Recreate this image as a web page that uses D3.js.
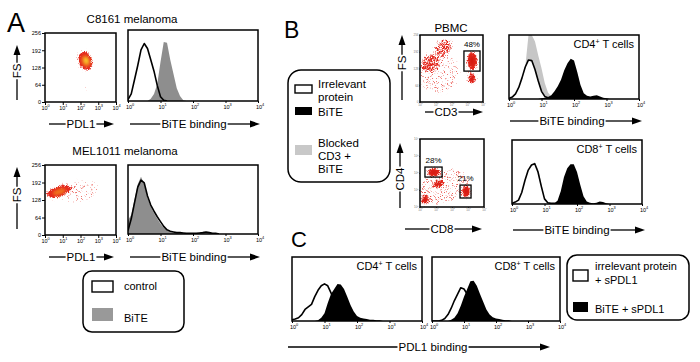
<!DOCTYPE html>
<html>
<head>
<meta charset="utf-8">
<script src="https://cdn.jsdelivr.net/npm/d3@7"></script>
<style>
  body { margin: 0; background: #fff; }
  svg { font-family: "Liberation Sans", Arial, Helvetica, sans-serif; }
</style>
</head>
<body>
<svg width="700" height="362"></svg>
<script>
// ---- data ----
// histogram counts (% of max) on log10 bins 0.0, 0.1, ... 4.0 ; missing tail = 0
const a1Control = [2, 10, 30, 50, 72, 81, 74, 58, 42, 22, 6, 1, 0];
const a1Bite    = [0, 0, 0, 0, 0, 0, 0, 3, 10, 24, 55, 83, 82, 58, 38, 18, 7, 1, 0];
const a2Control = [5, 22, 45, 68, 78, 74, 55, 42, 33, 25, 18, 11, 6, 4, 3, 2, 2, 1.5, 1, 1, 1, 1, 1.5, 2, 3, 2, 1, 1, 0];
const a2Bite    = [20, 28, 50, 72, 83, 72, 52, 40, 30, 22, 15, 9, 5, 3, 2, 1.5, 1, 1, 1, 1, 1, 1, 1.5, 2, 2.5, 2, 1, 0.5, 0];
const b1Control = [1, 3, 8, 18, 33, 50, 61, 60, 46, 28, 12, 4, 2, 2, 1, 1, 1, 1, 0];
const b1Blocked = [0, 0, 0, 5, 20, 50, 100, 100, 90, 68, 48, 25, 10, 4, 1, 0];
const b1Bite    = [0, 0, 0, 0, 0, 0, 0, 0, 0, 0, 1, 2, 3, 6, 12, 20, 30, 45, 56, 63, 60, 42, 22, 9, 5, 4, 5, 6, 4, 2, 1, 0];
const b2Control = [1, 3, 6, 18, 37, 53, 61, 63, 50, 28, 8, 2, 1, 1, 0];
const b2Blocked = [1, 2, 5, 15, 34, 52, 62, 65, 55, 32, 10, 3, 1, 0];
const b2Bite    = [0, 0, 0, 0, 0, 0, 0, 0, 0, 0, 0, 0, 0, 1, 5, 20, 42, 56, 62, 62, 50, 30, 12, 4, 2, 1, 2, 4, 3, 1, 0];
const c1Control = [2, 3, 5, 10, 18, 22, 26, 38, 48, 55, 58, 55, 44, 32, 22, 14, 8, 4, 2, 1, 0];
const c1Bite    = [0, 0, 0, 0, 0, 0, 0, 0, 1, 5, 12, 28, 42, 50, 58, 57, 50, 38, 25, 15, 8, 5, 4, 3, 2, 2, 1, 1, 0];
const c2Control = [0, 0, 0, 1, 4, 10, 20, 32, 42, 52, 50, 42, 30, 20, 12, 6, 3, 1, 0];
const c2Bite    = [0, 0, 0, 0, 0, 0, 2, 5, 12, 24, 38, 50, 62, 63, 55, 42, 30, 18, 10, 6, 4, 3, 2, 1, 1, 0];

// dot plot populations: [x log10, y, x spread, y spread, tilt deg, density]
const a1Dots = [[2.27, 152, 0.38, 36, -20, 0.95], [2.2, 50, 0.1, 8, 0, 0.2]];
const a1Hot  = [[2.3, 152, 0.24, 22, -20, 1], [2.32, 154, 0.11, 11, -20, 2]];
const a2Dots = [[0.78, 160, 0.7, 18, -18, 0.95], [0.5, 150, 0.4, 16, 0, 0.7], [1.9, 160, 1.1, 36, -10, 0.22]];
const a2Hot  = [[0.8, 158, 0.38, 10, -18, 1]];
// B dot plots: y of PBMC in FS units, y of CD4/CD8 in log10
const b1Dots = [[1.5, 208, 0.6, 30, -30, 0.5], [0.65, 150, 0.65, 34, -20, 0.45], [1.2, 110, 1.3, 75, 0, 0.22],
                [3.3, 158, 0.3, 32, 0, 1], [3.3, 88, 0.25, 18, 0, 0.8], [3.3, 120, 0.2, 30, 0, 0.4]];
const b1Hot  = [[3.3, 158, 0.18, 22, 0, 1], [3.3, 90, 0.12, 10, 0, 1]];
const b2Dots = [[0.85, 2.05, 0.38, 0.22, 0, 1], [2.9, 0.92, 0.22, 0.35, 0, 1], [0.3, 0.42, 0.28, 0.3, 0, 0.7],
                [1.15, 1.35, 0.35, 0.2, -20, 0.7], [1.5, 1.2, 1.6, 1.0, -15, 0.25]];
const b2Hot  = [[0.85, 2.05, 0.26, 0.13, 0, 1], [2.9, 0.92, 0.13, 0.24, 0, 1], [0.3, 0.42, 0.14, 0.14, 0, 1], [1.15, 1.38, 0.18, 0.09, -20, 1]];

// gates: [x0, x1 (log10), y0, y1]
const b1Gates = [[2.79, 3.81, 118, 195]];
const b1GateLabels = ['48%'];
const b2Gates = [[0.31, 1.38, 1.76, 2.35], [2.5, 3.19, 0.53, 1.29]];
const b2GateLabels = ['28%', '21%'];

const decades = [1, 10, 100, 1000, 10000];
const fsTicks = [0, 64, 128, 192, 256];
const bins = d3.range(41).map(i => i / 10);

// ---- drawing ----
const svg = d3.select('svg');
const defs = svg.append('defs');

// speckle filter turns a soft density field into scattered red dots
const speck = defs.append('filter').attr('id', 'speck')
  .attr('filterUnits', 'userSpaceOnUse').attr('x', 0).attr('y', 0).attr('width', 700).attr('height', 362)
  .attr('color-interpolation-filters', 'sRGB');
speck.append('feGaussianBlur').attr('in', 'SourceGraphic').attr('stdDeviation', 1.5).attr('result', 'blur');
speck.append('feTurbulence').attr('type', 'fractalNoise').attr('baseFrequency', 2.2).attr('numOctaves', 1).attr('seed', 4).attr('result', 'noise');
speck.append('feColorMatrix').attr('in', 'noise').attr('type', 'matrix')
  .attr('values', '0 0 0 0 0  0 0 0 0 0  0 0 0 0 0  2.4 0 0 0 -0.7').attr('result', 'na');
speck.append('feComposite').attr('in', 'blur').attr('in2', 'na').attr('operator', 'arithmetic')
  .attr('k1', 0).attr('k2', 1.5).attr('k3', -1).attr('k4', 0).attr('result', 'diff');
speck.append('feComponentTransfer').attr('in', 'diff').attr('result', 'mask')
  .append('feFuncA').attr('type', 'linear').attr('slope', 2).attr('intercept', 0);
speck.append('feFlood').attr('flood-color', '#e4291f').attr('result', 'red');
speck.append('feComposite').attr('in', 'red').attr('in2', 'mask').attr('operator', 'in');

defs.append('filter').attr('id', 'soft').attr('x', '-50%').attr('y', '-50%').attr('width', '200%').attr('height', '200%')
  .append('feGaussianBlur').attr('stdDeviation', 1.4);

let clipN = 0;
function clipFor(box) {
  const id = 'clip' + (clipN++);
  defs.append('clipPath').attr('id', id).append('rect')
    .attr('x', box.x).attr('y', box.y).attr('width', box.w).attr('height', box.h);
  return `url(#${id})`;
}

function supTicks(ax, size) {
  ax.attr('font-family', null).attr('font-size', size);
  ax.selectAll('.tick text').each(function(d) {
    const t = d3.select(this).text('10');
    t.append('tspan').attr('dy', -size * 0.45).attr('font-size', size * 0.7).text(Math.round(Math.log10(d)));
  });
}

function frame(box) {
  svg.append('rect').attr('x', box.x).attr('y', box.y).attr('width', box.w).attr('height', box.h)
    .attr('fill', 'none').attr('stroke', '#000').attr('stroke-width', 1.5);
}

function cellTag(text, x, y) {
  const t = svg.append('text').attr('x', x).attr('y', y).attr('text-anchor', 'end').attr('font-size', 11);
  t.append('tspan').text(text);
  t.append('tspan').attr('dy', -4).attr('font-size', 7).text('+');
  t.append('tspan').attr('dy', 4).text(' T cells');
}

function histPanel(box, layers, tag) {
  const x = d3.scaleLog().domain([1, 1e4]).range([box.x, box.x + box.w]);
  const y = d3.scaleLinear().domain([0, 100]).range([box.y + box.h, box.y]);
  const plot = svg.append('g').attr('clip-path', clipFor(box));
  const pts = v => v.map((d, i) => [bins[i], d]);
  const area = d3.area().x(d => x(10 ** d[0])).y0(y(0)).y1(d => y(d[1]));
  const line = d3.line().x(d => x(10 ** d[0])).y(d => y(d[1]));
  layers.forEach(l => {
    if (l.fill) {
      plot.append('path').attr('d', area(pts(l.values))).attr('fill', l.fill);
    } else {
      if (l.white) plot.append('path').attr('d', area(pts(l.values))).attr('fill', '#fff');
      plot.append('path').attr('d', line(pts(l.values))).attr('fill', 'none')
        .attr('stroke', '#000').attr('stroke-width', 1.6).attr('stroke-linejoin', 'round');
    }
  });
  const ax = svg.append('g').attr('transform', `translate(0,${box.y + box.h})`)
    .call(d3.axisBottom(x).tickValues(decades).tickSize(2).tickPadding(2));
  ax.select('.domain').remove();
  ax.selectAll('.tick text').attr('dx', 1.5);
  supTicks(ax, 5.5);
  frame(box);
  if (tag) cellTag(tag, box.x + box.w - 5, box.y + 13);
}

function dotPanel(box, opt) {
  const x = d3.scaleLog().domain([1, 1e4]).range([box.x, box.x + box.w]);
  const y = opt.yLog ? d3.scaleLog().domain([1, 1e4]).range([box.y + box.h, box.y])
                     : d3.scaleLinear().domain([0, 256]).range([box.y + box.h, box.y]);
  const yv = v => opt.yLog ? y(10 ** v) : y(v);
  const clip = clipFor(box);
  const ell = (sel, c) => {
    const cx = x(10 ** c[0]), cy = yv(c[1]);
    return sel.append('ellipse').attr('cx', cx).attr('cy', cy)
      .attr('rx', x(10 ** (c[0] + c[2])) - cx).attr('ry', Math.abs(yv(c[1] + c[3]) - cy))
      .attr('transform', `rotate(${c[4]},${cx},${cy})`);
  };
  const dots = svg.append('g').attr('clip-path', clip).append('g').attr('filter', 'url(#speck)');
  opt.dots.forEach(c => ell(dots, c).attr('fill', '#000').attr('fill-opacity', c[5]));
  const hot = svg.append('g').attr('clip-path', clip).append('g').attr('filter', 'url(#soft)');
  opt.hot.forEach(c => ell(hot, c).attr('fill', opt.hotColors[c[5]]));

  (opt.gates || []).forEach((gt, i) => {
    const x0 = x(10 ** gt[0]), x1 = x(10 ** gt[1]), y0 = yv(gt[3]), y1 = yv(gt[2]);
    svg.append('rect').attr('x', x0).attr('y', y0).attr('width', x1 - x0).attr('height', y1 - y0)
      .attr('fill', 'none').attr('stroke', '#000').attr('stroke-width', 1.3);
    svg.append('text').attr('x', (x0 + x1) / 2).attr('y', y0 - 4).attr('text-anchor', 'middle')
      .attr('font-size', 8).text(opt.gateLabels[i]);
  });

  const ts = opt.tickFont;
  const axb = svg.append('g').attr('transform', `translate(0,${box.y + box.h})`)
    .call(d3.axisBottom(x).tickValues(decades).tickSize(opt.tickLen).tickPadding(opt.tickPad));
  axb.select('.domain').remove();
  supTicks(axb, ts);
  const axl = svg.append('g').attr('transform', `translate(${box.x},0)`)
    .call(d3.axisLeft(y).tickValues(opt.yLog ? decades : fsTicks).tickSize(opt.tickLen).tickPadding(opt.tickPad));
  axl.select('.domain').remove();
  if (opt.yLog) supTicks(axl, ts);
  else axl.attr('font-family', null).attr('font-size', ts);
  axb.attr('color', opt.tickColor); axl.attr('color', opt.tickColor);
  frame(box);
}

function arrowH(x1, x2, y, cx, label, size) {
  const t = svg.append('text').attr('x', cx).attr('y', y + size * 0.36).attr('text-anchor', 'middle')
    .attr('font-size', size).text(label);
  const w = t.node().getComputedTextLength();
  svg.append('line').attr('x1', x1).attr('x2', cx - w / 2 - 1).attr('y1', y).attr('y2', y)
    .attr('stroke', '#000').attr('stroke-width', 1.3);
  svg.append('line').attr('x1', cx + w / 2 + 1).attr('x2', x2 - 8).attr('y1', y).attr('y2', y)
    .attr('stroke', '#000').attr('stroke-width', 1.3);
  svg.append('path').attr('d', `M${x2},${y}L${x2 - 10},${y - 3.5}L${x2 - 10},${y + 3.5}Z`).attr('fill', '#000');
}

function arrowV(x, y1, y2, cy, label, size) {
  const t = svg.append('text').attr('transform', `translate(${x + size * 0.36},${cy}) rotate(-90)`)
    .attr('text-anchor', 'middle').attr('font-size', size).text(label);
  const w = t.node().getComputedTextLength();
  svg.append('line').attr('x1', x).attr('x2', x).attr('y1', y1).attr('y2', cy + w / 2 + 1)
    .attr('stroke', '#000').attr('stroke-width', 1.3);
  svg.append('line').attr('x1', x).attr('x2', x).attr('y1', cy - w / 2 - 1).attr('y2', y2 + 8)
    .attr('stroke', '#000').attr('stroke-width', 1.3);
  svg.append('path').attr('d', `M${x},${y2}L${x - 3.5},${y2 + 10}L${x + 3.5},${y2 + 10}Z`).attr('fill', '#000');
}

function text(x, y, s, size, anchor) {
  return svg.append('text').attr('x', x).attr('y', y).attr('font-size', size)
    .attr('text-anchor', anchor || 'start').text(s);
}

function legendFrame(x, y, w, h, r) {
  svg.append('rect').attr('x', x).attr('y', y).attr('width', w).attr('height', h).attr('rx', r)
    .attr('fill', 'none').attr('stroke', '#000').attr('stroke-width', 1.5);
}
function swatch(x, y, w, h, fill) {
  svg.append('rect').attr('x', x).attr('y', y).attr('width', w).attr('height', h)
    .attr('fill', fill).attr('stroke', fill === '#fff' ? '#000' : 'none').attr('stroke-width', 1.4);
}

const aHot = {1: '#f0731c', 2: '#f9cf2e'};
const bHot = {1: '#d4150d'};
const aTicks = {tickFont: 5.5, tickLen: 3, tickPad: 1, tickColor: '#000'};
const bTicks = {tickFont: 3, tickLen: 1, tickPad: 0.5, tickColor: '#777'};

// ---------------- Panel A ----------------
text(7, 32, 'A', 27);
text(132, 23, 'C8161 melanoma', 11.5, 'middle');
dotPanel({x: 45, y: 33, w: 71, h: 69}, {dots: a1Dots, hot: a1Hot, hotColors: aHot, ...aTicks});
histPanel({x: 128, y: 30, w: 130, h: 71}, [{values: a1Bite, fill: '#8e8e8e'}, {values: a1Control}]);
arrowV(17, 100, 45, 71, 'FS', 11.5);
arrowH(49, 114, 124, 81, 'PDL1', 11.5);
arrowH(130, 260, 124, 194, 'BiTE binding', 11.5);

text(125, 155, 'MEL1011 melanoma', 11.5, 'middle');
dotPanel({x: 45, y: 165, w: 71, h: 70}, {dots: a2Dots, hot: a2Hot, hotColors: aHot, ...aTicks});
histPanel({x: 128, y: 165, w: 130, h: 69}, [{values: a2Bite, fill: '#8e8e8e'}, {values: a2Control}]);
arrowV(17, 229, 167, 195, 'FS', 11.5);
arrowH(49, 114, 257, 81, 'PDL1', 11.5);
arrowH(130, 260, 257, 194, 'BiTE binding', 11.5);

legendFrame(83, 271, 101, 61, 9);
swatch(92, 281, 21, 11, '#fff');
text(124, 290, 'control', 11);
swatch(92, 308, 21, 13, '#999');
text(124, 322, 'BiTE', 11);

// ---------------- Panel B ----------------
text(284, 38, 'B', 23);
text(451, 32, 'PBMC', 11.5, 'middle');
dotPanel({x: 420, y: 35, w: 63, h: 67}, {dots: b1Dots, hot: b1Hot, hotColors: bHot, gates: b1Gates, gateLabels: b1GateLabels, ...bTicks});
histPanel({x: 509, y: 35, w: 130, h: 64},
  [{values: b1Blocked, fill: '#c6c6c6'}, {values: b1Control, white: true}, {values: b1Bite, fill: '#000'}], 'CD4');
arrowV(402, 100, 35, 63, 'FS', 11.5);
arrowH(425, 483, 112, 446, 'CD3', 11.5);
arrowH(510, 642, 121, 572, 'BiTE binding', 11.5);

dotPanel({x: 420, y: 139, w: 64, h: 68}, {dots: b2Dots, hot: b2Hot, hotColors: bHot, yLog: true, gates: b2Gates, gateLabels: b2GateLabels, ...bTicks});
histPanel({x: 512, y: 140, w: 130, h: 64},
  [{values: b2Blocked, fill: '#c6c6c6'}, {values: b2Control, white: true}, {values: b2Bite, fill: '#000'}], 'CD8');
arrowV(400, 208, 143, 179, 'CD4', 11.5);
arrowH(405, 482, 229, 442, 'CD8', 11.5);
arrowH(513, 645, 230, 577, 'BiTE binding', 11.5);

legendFrame(288, 70, 102, 112, 13);
swatch(295, 85, 17, 8, '#fff');
text(318, 88, 'Irrelevant', 11.5);
text(318, 101, 'protein', 11.5);
swatch(295, 107, 17, 8, '#000');
text(318, 116, 'BiTE', 11.5);
swatch(295, 145, 17, 10, '#c8c8c8');
text(318, 147, 'Blocked', 11.5);
text(318, 160, 'CD3 +', 11.5);
text(318, 173, 'BiTE', 11.5);

// ---------------- Panel C ----------------
text(291, 247, 'C', 22);
histPanel({x: 292, y: 257, w: 130, h: 64}, [{values: c1Control, white: true}, {values: c1Bite, fill: '#000'}], 'CD4');
histPanel({x: 432, y: 257, w: 128, h: 64}, [{values: c2Control, white: true}, {values: c2Bite, fill: '#000'}], 'CD8');
arrowH(288, 550, 347, 433, 'PDL1 binding', 11.5);

legendFrame(567, 255, 122, 65, 10);
swatch(573, 270, 15, 11, '#fff');
text(595, 270, 'irrelevant protein', 11);
text(595, 284, '+ sPDL1', 11);
swatch(573, 302, 15, 10, '#000');
text(595, 313, 'BiTE + sPDL1', 11);
</script>
</body>
</html>
